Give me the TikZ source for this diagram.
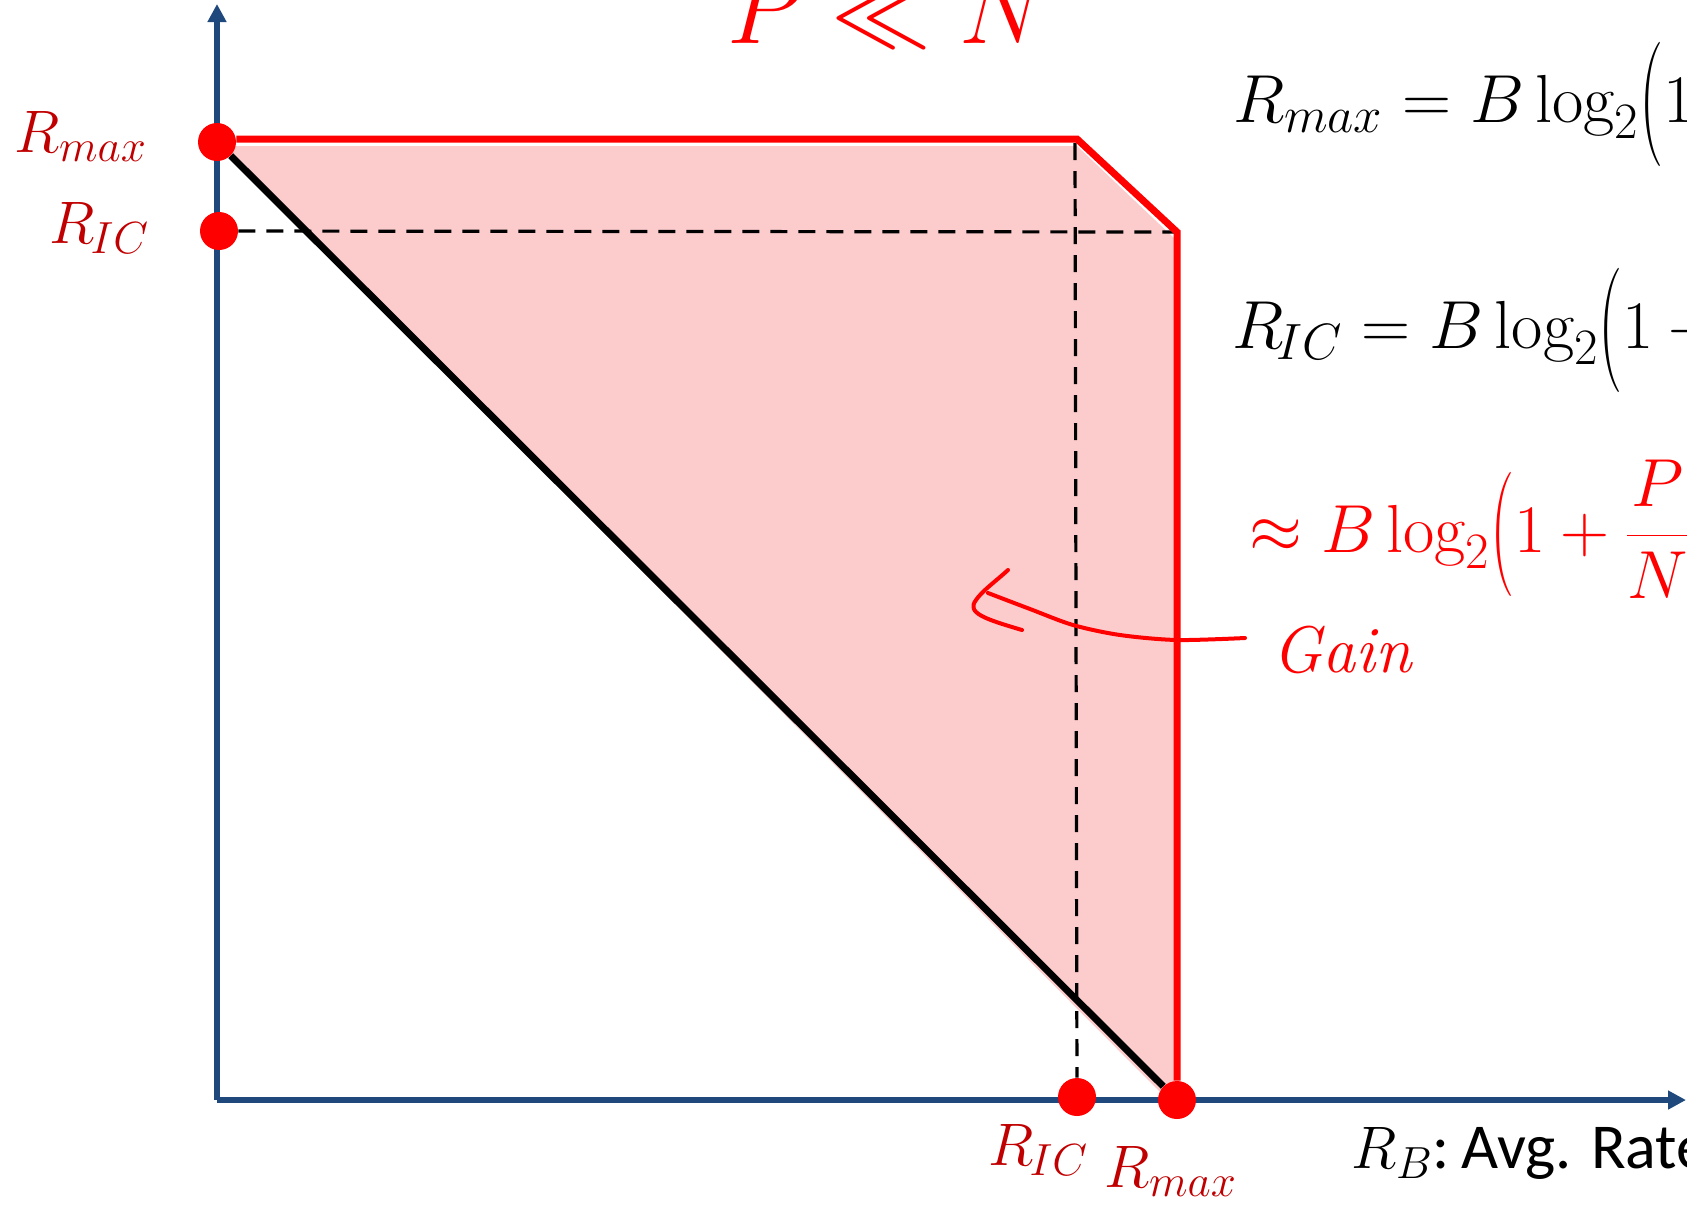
\RequirePackage{fix-cm}
\documentclass[tikz,border=0pt]{standalone}
\usepackage{graphicx}
\usepackage{fontspec}
\newfontfamily\carlito{Carlito}
\usetikzlibrary{arrows.meta}
\def\defaultscriptratio{.75}
\definecolor{axisblue}{RGB}{31,73,125}
\definecolor{labred}{RGB}{192,0,0}
\definecolor{pinkfill}{RGB}{252,204,204}
\newcommand{\tallparen}[1]{\raisebox{-0.2em}{\scalebox{1}[1.83]{#1}}}
\newcommand{\lpar}{\mathopen{\tallparen{(}}}
\newcommand{\rpar}{\mathclose{\tallparen{)}}}
\begin{document}
\begin{tikzpicture}[x=0.5pt,y=-0.5pt,
  axis/.style={draw=axisblue, line width=3pt, -{Triangle[length=9pt,width=9pt]}},
  redline/.style={draw=red, line width=3.5pt},
  blackline/.style={draw=black, line width=3.5pt},
  dashline/.style={draw=black, line width=1.6pt, dash pattern=on 8.5pt off 5.5pt},
  dot/.style={circle, fill=red, inner sep=0pt, minimum size=19pt},
  lab/.style={inner sep=0pt, anchor=base west, text=labred, font=\fontsize{30}{36}\selectfont},
  eqn/.style={inner sep=0pt, anchor=base west, font=\fontsize{34}{40}\selectfont},
  hand/.style={draw=red, line width=2pt, line cap=round, line join=round}]
\useasboundingbox (0,0) rectangle (1687,1207);
\clip (0,0) rectangle (1687,1207);
% coordinates
\coordinate (O) at (217,1100);
\coordinate (Ytip) at (217,4);
\coordinate (Xtip) at (1686,1100);
\coordinate (A) at (1077,139);
\coordinate (Atop) at (1075,143);
\coordinate (C) at (1177,232);
% shaded gain region
\fill[pinkfill] (219,146) -- (1077,146) -- (1174,238) -- (1174,1098) -- (1166,1098) -- cycle;
% axes
\draw[axis] (O) -- (Ytip);
\draw[axis] (O) -- (Xtip);
% dots
\node[dot] (ymax) at (217,142) {};
\node[dot] (yic) at (219,231) {};
\node[dot] (xic) at (1077,1097) {};
\node[dot] (xmax) at (1177,1100) {};
% dashed guides
\draw[dashline] (yic) -- (C);
\draw[dashline] (Atop) -- (xic);
% black boundary
\draw[blackline] (ymax) -- (xmax);
% red boundary
\draw[redline] (ymax.east |- A) -- (A) -- (C) -- (xmax);
% gain arrow
\coordinate (gtip) at (988,593);
\coordinate (gend) at (1245,638);
\draw[hand] plot[smooth] coordinates {(gtip) (1030,609) (1073,625) (1120,635) (1177,640) (gend)};
\draw[hand] (1008,570) .. controls (996,581) and (982,591) .. (976,600) .. controls (966,613) and (985,619) .. (1022,630);
\node[inner sep=0pt, anchor=base west, text=red, font=\fontsize{33}{40}\selectfont\itshape] (gain) at (1272,672) {Gain};
% title
\node[inner sep=0pt, anchor=base, text=red, font=\fontsize{50}{58}\selectfont] (title) at (888,43) {$P \ll N$};
% axis labels
\node[lab] (lymax) at (14,152) {$R_{max}$};
\node[lab] (lyic) at (49,243) {$R_{\kern-0.06em IC}$};
\node[lab] (lxic) at (988,1165) {$R_{\kern-0.06em IC}$};
\node[lab] (lxmax) at (1104,1187) {$R_{max}$};
\node[inner sep=0pt, anchor=base west, font=\fontsize{30}{36}\selectfont] (xlab) at (1351,1168) {$R_{B}${\carlito\fontsize{32}{38}\selectfont:\hspace{0.18em}Avg. Rate}};
% equations
\node[eqn] (eq1) at (1233,122) {$\displaystyle R_{max} = B\log_2\lpar 1$};
\node[eqn] (eq2) at (1232,348) {$\displaystyle R_{\kern-0.1em IC} = B\log_2\lpar 1+{}$};
\node[eqn, text=red] (eq3) at (1249,552) {$\displaystyle \approx B\log_2\lpar 1+\frac{P}{N}\rpar$};
\end{tikzpicture}
\end{document}
